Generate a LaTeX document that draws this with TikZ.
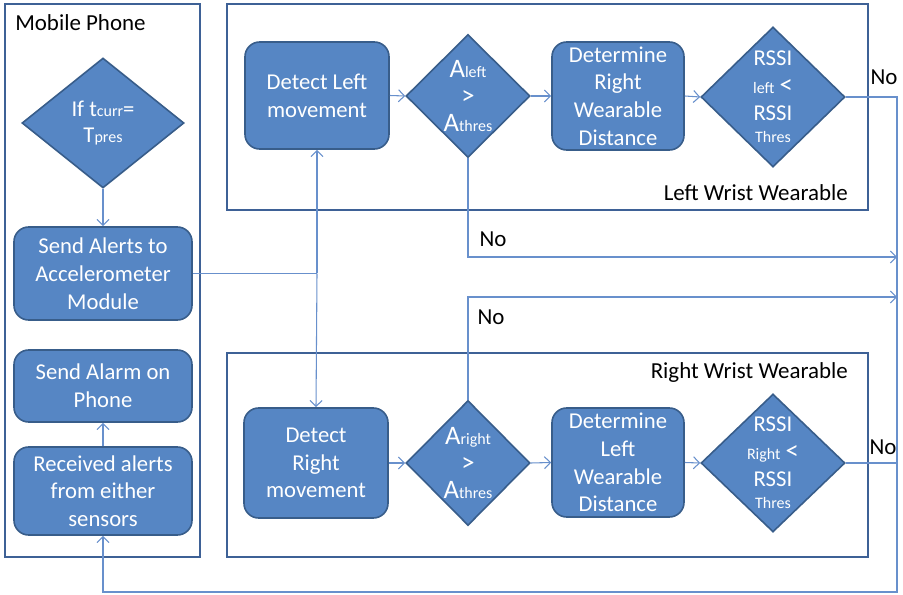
\documentclass[tikz,border=0pt]{standalone}
\usepackage{fontspec}
\setmainfont{Carlito}
\usetikzlibrary{shapes.geometric,arrows.meta,fit}
\definecolor{boxfill}{RGB}{86,134,196}
\definecolor{boxdraw}{RGB}{56,93,138}
\definecolor{contdraw}{RGB}{62,97,150}
\definecolor{connc}{RGB}{104,144,204}
\newcommand{\sm}[1]{{\fontsize{12}{12}\selectfont #1}}
\newcommand{\bg}[1]{{\fontsize{20}{20}\selectfont #1}}
\begin{document}
\begin{tikzpicture}[x=0.75pt,y=-0.75pt,
  cont/.style={draw=contdraw,line width=1.6pt,inner sep=0pt},
  box/.style={draw=boxdraw,fill=boxfill,line width=1.2pt,rounded corners=11pt,
    text=white,align=center,font=\fontsize{17}{20.8}\selectfont,inner sep=2pt},
  dia/.style={diamond,draw=boxdraw,fill=boxfill,line width=1.2pt,inner sep=0pt},
  dtext/.style={text=white,align=center,font=\fontsize{17}{20}\selectfont},
  lbl/.style={text=black,font=\fontsize{17.2}{20}\selectfont,inner sep=0pt},
  conn/.style={draw=connc,line width=0.8pt},
  arr/.style={conn,-{Straight Barb[length=4.5pt,width=9pt]}}]
\useasboundingbox (0,0) rectangle (903,595);
% containers
\node[cont,fit={(5,4) (200,557)}] (mp) {};
\node[cont,fit={(227,4) (868,210)}] (lw) {};
\node[cont,fit={(227,353) (868,557)}] (rw) {};
\node[lbl,anchor=west] (mpt) at (15,23) {Mobile Phone};
\node[lbl,anchor=east] (lwt) at (848,193) {Left Wrist Wearable};
\node[lbl,anchor=east] (rwt) at (848,373) {Right Wrist Wearable};
% mobile phone
\node[dia,minimum width=121.5pt,minimum height=97.5pt] (ift) at (103,123) {};
\node[dtext] (iftt) at (ift) {If t\sm{curr}=\\T\sm{pres}};
\node[box,minimum width=133.5pt,minimum height=69.75pt] (sa) at (103,273.5) {Send Alerts to\\Accelerometer\\Module};
\node[box,minimum width=133.5pt,minimum height=54pt] (sp) at (103,386) {Send Alarm on\\Phone};
\node[box,minimum width=133.5pt,minimum height=66pt] (rc) at (103,491) {Received alerts\\from either\\sensors};
% left wrist
\node[box,minimum width=108pt,minimum height=80.25pt] (dl) at (317,95.5) {Detect Left\\movement};
\node[dia,minimum width=93pt,minimum height=92.25pt] (al) at (468,96) {};
\node[dtext] (alt) at (al) {\bg{A}\sm{left}\\\bg{>}\\\bg{A}\sm{thres}};
\node[box,minimum width=99pt,minimum height=81pt] (drr) at (618,96) {Determine\\Right\\Wearable\\Distance};
\node[dia,minimum width=108pt,minimum height=105pt] (rl) at (773,97) {};
\node[dtext] (rlt) at (rl) {RSSI\\[1pt]\sm{left} \bg{<}\\RSSI\\[-3pt]\sm{Thres}};
% right wrist
\node[box,minimum width=108pt,minimum height=82.5pt] (dr) at (316,463) {Detect\\Right\\movement};
\node[dia,minimum width=93pt,minimum height=93.75pt] (ar) at (468,463) {};
\node[dtext] (art) at (ar) {\bg{A}\sm{right}\\\bg{>}\\\bg{A}\sm{thres}};
\node[box,minimum width=99pt,minimum height=81.75pt] (dll) at (618,462.5) {Determine\\Left\\Wearable\\Distance};
\node[dia,minimum width=108pt,minimum height=103.5pt] (rr) at (773,463) {};
\node[dtext] (rrt) at (rr) {RSSI\\[1pt]\sm{Right} \bg{<}\\RSSI\\[-3pt]\sm{Thres}};
% coordinates
\coordinate (j) at (dl.south |- sa.east);
\coordinate (tr) at (897,97);
\coordinate (br) at (897,592);
\coordinate (n1) at (897,257);
\coordinate (n2) at (897,297);
% connectors
\draw[arr] (ift.south) -- (sa.north);
\draw[conn] (sa.east) -- (j);
\draw[arr] (j) -- (dl.south);
\draw[arr] (j) -- (dr.north);
\draw[arr] (dl.east) -- (al.west);
\draw[arr] (al.east) -- (drr.west);
\draw[arr] (drr.east) -- (rl.west);
\draw[arr] (dr.east) -- (ar.west);
\draw[arr] (ar.east) -- (dll.west);
\draw[arr] (dll.east) -- (rr.west);
\draw[arr] (al.south) -- (al.south |- n1) -- (n1);
\draw[arr] (ar.north) -- (ar.north |- n2) -- (n2);
\draw[arr] (rl.east) -- (tr) -- (br) -- (rc.south |- br) -- (rc.south);
\draw[conn] (rr.east) -- (rr.east -| tr);
\draw[arr] (rc.north) -- (sp.south);
% labels
\node[lbl] (no1) at (884,77) {No};
\node[lbl] (no2) at (493,239) {No};
\node[lbl] (no3) at (491,317) {No};
\node[lbl] (no4) at (883,447) {No};
\end{tikzpicture}
\end{document}
